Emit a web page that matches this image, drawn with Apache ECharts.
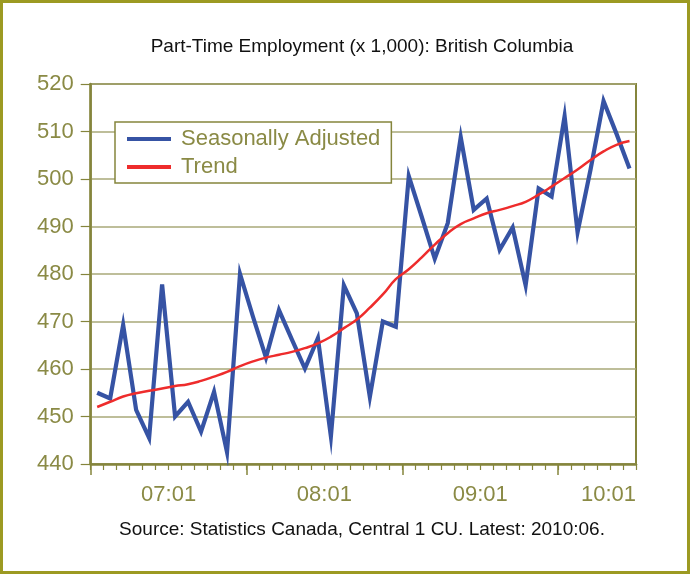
<!DOCTYPE html>
<html>
<head>
<meta charset="utf-8">
<script src="https://cdn.jsdelivr.net/npm/echarts@6/dist/echarts.min.js"></script>
<style>
html,body{margin:0;padding:0;background:#fff;}
#c{width:691px;height:575px;}
</style>
</head>
<body>
<div id="c"></div>
<script>
const categories = [
 '2007:01','2007:02','2007:03','2007:04','2007:05','2007:06','2007:07','2007:08','2007:09','2007:10','2007:11','2007:12',
 '2008:01','2008:02','2008:03','2008:04','2008:05','2008:06','2008:07','2008:08','2008:09','2008:10','2008:11','2008:12',
 '2009:01','2009:02','2009:03','2009:04','2009:05','2009:06','2009:07','2009:08','2009:09','2009:10','2009:11','2009:12',
 '2010:01','2010:02','2010:03','2010:04','2010:05','2010:06'
];
const seasonallyAdjusted = [455.0,453.8,469.3,451.4,445.5,477.8,450.0,453.1,446.8,455.2,442.5,480.0,
 471.0,462.4,472.4,466.2,460.1,466.5,445.8,477.6,471.7,454.1,470.0,468.9,
 500.6,492.0,483.2,490.7,508.8,493.5,495.9,485.1,489.8,477.6,498.0,496.3,
 513.2,488.8,502.0,516.4,509.5,502.2];
const trend = [452.0,453.1,454.2,454.9,455.4,455.9,456.4,456.8,457.5,458.4,459.4,460.6,
 461.6,462.4,463.0,463.6,464.4,465.4,466.8,468.6,470.4,472.9,475.7,478.9,
 481.0,483.5,486.2,488.6,490.5,491.7,492.8,493.5,494.3,495.2,496.7,498.4,
 500.2,502.0,504.0,505.8,507.2,508.0];
const tickLabels = ['07:01','08:01','09:01','10:01'];
const yTicks = [440,450,460,470,480,490,500,510,520];
const seriesNames = ['Seasonally Adjusted','Trend'];
const titleText = 'Part-Time Employment (x 1,000): British Columbia';
const sourceText = 'Source: Statistics Canada, Central 1 CU. Latest: 2010:06.';

const OLIVE = '#85853c';
const TEXT = '#8a8a45';
const GRID = '#a8a878';
const FRAME = '#9c9a22';
const FONT = '"Liberation Sans", Arial, sans-serif';

const n = categories.length;
// year label position: centre of each 12-month group, clamped to the axis end
const labelAt = {};
const yearStarts = [];
tickLabels.forEach(function (lab) {
  const start = categories.findIndex(function (c) { return c.slice(2) === lab; });
  yearStarts.push(start);
  labelAt[Math.min(start + 6, n)] = lab;
});

const chart = echarts.init(document.getElementById('c'), null, {renderer: 'canvas'});
chart.setOption({
  animation: false,
  backgroundColor: '#fff',
  graphic: [
    {type: 'rect', shape: {x: 1.5, y: 1.5, width: 687, height: 571},
     style: {fill: null, stroke: FRAME, lineWidth: 3}, silent: true},
    {type: 'text', x: 362, y: 47, silent: true,
     style: {text: titleText, font: '19px ' + FONT, fill: '#111', align: 'center', verticalAlign: 'middle'}},
    {type: 'text', x: 362, y: 530, silent: true,
     style: {text: sourceText, font: '19px ' + FONT, fill: '#111', align: 'center', verticalAlign: 'middle'}}
  ],
  legend: {
    orient: 'vertical', left: 115, top: 122,
    padding: [6, 11, 5, 12], itemGap: 6,
    itemWidth: 44, itemHeight: 4, icon: 'rect',
    backgroundColor: '#fff', borderColor: OLIVE, borderWidth: 1.5,
    textStyle: {fontFamily: FONT, fontSize: 22, color: TEXT, padding: [0, 0, 0, 5]},
    data: seriesNames
  },
  grid: {left: 90.7, right: 55, top: 84, bottom: 111, show: true,
    borderColor: OLIVE, borderWidth: 2, backgroundColor: '#fff'},
  xAxis: [
    {type: 'category', data: categories, boundaryGap: true,
     axisLine: {lineStyle: {color: OLIVE, width: 2.5}},
     axisTick: {show: true, interval: 0, length: 6, lineStyle: {color: OLIVE, width: 1.2}},
     axisLabel: {show: false}, splitLine: {show: false}},
    {type: 'value', min: 0, max: n, interval: 1, position: 'bottom',
     axisLine: {show: false},
     axisTick: {show: true, customValues: yearStarts, length: 11,
       lineStyle: {color: OLIVE, width: 1.5}},
     splitLine: {show: false},
     axisLabel: {show: true, margin: 20, showMaxLabel: true, alignMaxLabel: 'right',
       fontFamily: FONT, fontSize: 22, color: TEXT,
       formatter: function (v) { return labelAt[v] || ''; }}}
  ],
  yAxis: {
    type: 'value', min: yTicks[0], max: yTicks[yTicks.length - 1], interval: 10,
    axisLine: {show: true, lineStyle: {color: OLIVE, width: 2.5}},
    axisTick: {show: true, length: 10, lineStyle: {color: OLIVE, width: 1.2}},
    axisLabel: {margin: 17, fontFamily: FONT, fontSize: 22, color: TEXT},
    splitLine: {show: true, lineStyle: {color: GRID, width: 1.5}}
  },
  series: [
    {name: seriesNames[0], type: 'line', data: seasonallyAdjusted, xAxisIndex: 0,
     symbol: 'none', lineStyle: {color: '#3653a4', width: 4.2, join: 'miter'},
     itemStyle: {color: '#3653a4'}, z: 3},
    {name: seriesNames[1], type: 'line', data: trend, xAxisIndex: 0, smooth: 0.5,
     symbol: 'none', lineStyle: {color: '#ee2c2c', width: 2.5},
     itemStyle: {color: '#ee2c2c'}, z: 4}
  ]
});
</script>
</body>
</html>
